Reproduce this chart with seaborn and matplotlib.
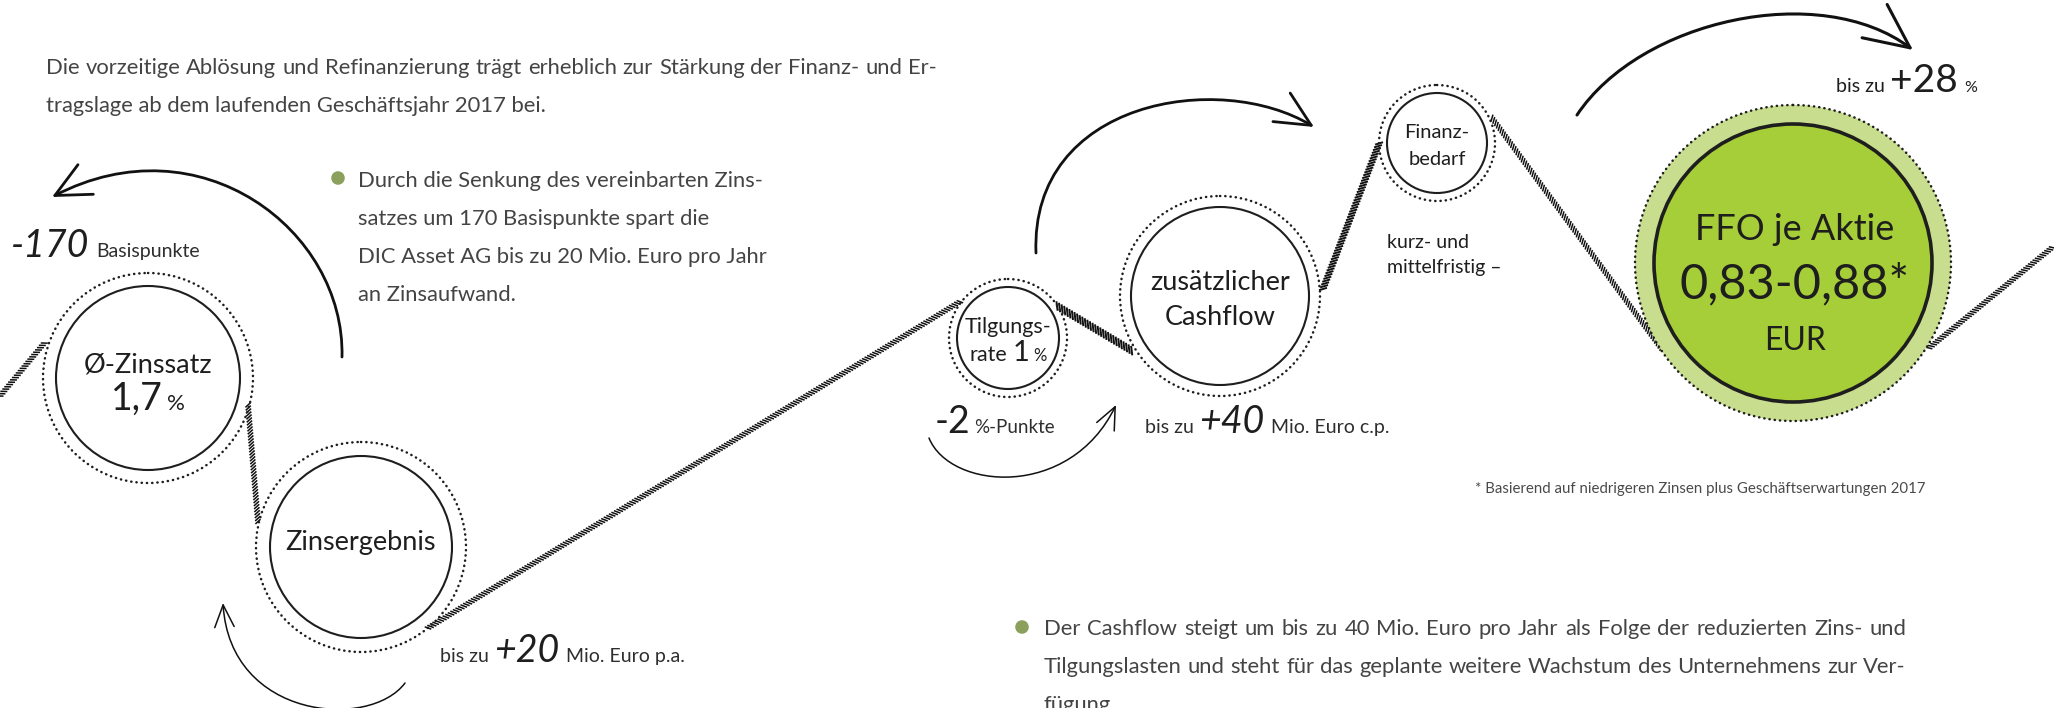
import numpy as np
import pandas as pd
import matplotlib
matplotlib.use("Agg")
import matplotlib.pyplot as plt
import seaborn as sns
from matplotlib.patches import Circle, FancyArrowPatch
from matplotlib.path import Path
from matplotlib.collections import LineCollection

# ---------------- content (values / labels) ----------------
intro_lines = [
    "Die vorzeitige Ablösung und Refinanzierung trägt erheblich zur Stärkung der Finanz- und Er-",
    "tragslage ab dem laufenden Geschäftsjahr 2017 bei.",
]
bullet1_lines = [
    "Durch die Senkung des vereinbarten Zins-",
    "satzes um 170 Basispunkte spart die",
    "DIC Asset AG bis zu 20 Mio. Euro pro Jahr",
    "an Zinsaufwand.",
]
bullet2_lines = [
    "Der Cashflow steigt um bis zu 40 Mio. Euro pro Jahr als Folge der reduzierten Zins- und",
    "Tilgungslasten und steht für das geplante weitere Wachstum des Unternehmens zur Ver-",
    "fügung.",
]
footnote = "* Basierend auf niedrigeren Zinsen plus Geschäftserwartungen 2017"

zins_delta = "-170"
zins_delta_unit = "Basispunkte"
zinssatz_label = "Ø-Zinssatz"
zinssatz_value = "1,7"
zinsergebnis_label = "Zinsergebnis"
zinsergebnis_delta = "+20"
zinsergebnis_unit = "Mio. Euro p.a."
tilgung_label = ["Tilgungs-", "rate"]
tilgung_value = "1"
tilgung_delta = "-2"
tilgung_delta_unit = "%-Punkte"
cashflow_label = ["zusätzlicher", "Cashflow"]
cashflow_delta = "+40"
cashflow_unit = "Mio. Euro c.p."
finanz_label = ["Finanz-", "bedarf"]
finanz_note = ["kurz- und", "mittelfristig –"]
ffo_label = "FFO je Aktie"
ffo_value = "0,83-0,88*"
ffo_unit = "EUR"
ffo_delta = "+28"
prefix = "bis zu"

# ---------------- layout (pixel space of the 2054x708 picture) ----------------
W, H = 2054, 708
nodes = {  # centre x, centre y, inner radius, dotted radius
    "zinssatz": (148, 378, 92, 105),
    "zinsergebnis": (361, 547, 91, 105),
    "tilgung": (1008, 338, 51, 59),
    "cashflow": (1220, 296, 89, 100),
    "finanz": (1437, 143, 50, 58),
}
ffo_node = (1793, 263, 139, 158)
rope_segments = [
    ((0, 396), (46, 341), 5.5),
    ((248, 405), (258, 522), 5.5),
    ((428, 628), (961, 301), 5.5),
    ((1057, 306), (1134, 352), 7.5),
    ((1323, 289), (1380, 141), 6.5),
    ((1492, 118), (1661, 348), 5.5),
    ((1929, 348), (2054, 246), 5.5),
]
arrows = [  # cubic bezier control points, head length, head width, line width
    ([(342, 357), (345, 230), (200, 120), (52, 197)], 1.25, 0.6, 2.0),
    ([(1036, 253), (1030, 100), (1220, 70), (1314, 127)], 1.25, 0.6, 2.0),
    ([(929, 438), (950, 490), (1070, 500), (1116, 405)], 0.8, 0.35, 1.1),
    ([(405, 683), (370, 730), (230, 720), (223, 603)], 0.8, 0.35, 1.1),
    ([(1577, 115), (1640, 20), (1820, -20), (1913, 50)], 1.6, 0.75, 2.2),
]

INK = "#1e1e1e"
BODY = "#444444"
GREEN_DOT = "#8aa05c"
FFO_IN = "#a6ce39"
FFO_RING = "#c8de8e"

sns.set_theme(style="white")
plt.rcParams["font.family"] = ["Lato", "DejaVu Sans"]

fig = plt.figure(figsize=(W / 100, H / 100), dpi=100)
ax = fig.add_axes([0, 0, 1, 1])
ax.set_xlim(0, W)
ax.set_ylim(H, 0)
ax.set_axis_off()
renderer = fig.canvas.get_renderer()


def run(x, y, pieces, ha="left"):
    """Place text pieces one after another on a common baseline."""
    cx = x
    made = []
    for s, kw, gap in pieces:
        cx += gap
        t = ax.text(cx, y, s, va="baseline", ha="left", **kw)
        cx += t.get_window_extent(renderer).width
        made.append(t)
    if ha == "center":
        shift = (cx - x) / 2
        for t in made:
            px, py = t.get_position()
            t.set_x(px - shift)
    return made


def justified(x0, x1, y, line, kw):
    """Spread the words of a line so it fills x0..x1 (justified setting)."""
    words = line.split(" ")
    made = [ax.text(x0, y, w, va="baseline", ha="left", **kw) for w in words]
    widths = [t.get_window_extent(renderer).width for t in made]
    gap = (x1 - x0 - sum(widths)) / max(len(words) - 1, 1)
    cx = x0
    for t, w in zip(made, widths):
        t.set_x(cx)
        cx += w + gap


def rope(p0, p1, width, step=3.0, tilt=38, lw=1.1, color="#111111"):
    p0 = np.asarray(p0, float)
    p1 = np.asarray(p1, float)
    d = p1 - p0
    L = np.hypot(*d)
    u = d / L
    n = np.array([-u[1], u[0]])
    b = np.deg2rad(tilt)
    v = np.cos(b) * n + np.sin(b) * u
    half = width / 2 / np.cos(b)
    s = np.arange(0, L, step)
    c = p0 + np.outer(s, u)
    segs = np.stack([c - v * half, c + v * half], axis=1)
    ax.add_collection(LineCollection(segs, colors=color, linewidths=lw, zorder=2))


def node(cx, cy, r_in, r_out, lw_in=1.5):
    ax.add_patch(Circle((cx, cy), r_in, fill=False, ec=INK, lw=lw_in, zorder=3))
    ring = Circle((cx, cy), r_out, fill=False, ec=INK, lw=1.8,
                  ls=(0, (0.1, 2.0)), zorder=3)
    ring.set_capstyle("round")
    ax.add_patch(ring)


# ---- rope ----
for p0, p1, wdt in rope_segments:
    rope(p0, p1, wdt, lw=1.4 if wdt > 6 else 1.1)

# ---- circles ----
for key, (cx, cy, ri, ro) in nodes.items():
    node(cx, cy, ri, ro)

fx, fy, fri, fro = ffo_node
ax.add_patch(Circle((fx, fy), fro, fc=FFO_RING, ec="none", zorder=2.5))
ax.add_patch(Circle((fx, fy), fri, fc=FFO_IN, ec=INK, lw=2.6, zorder=3))
ring = Circle((fx, fy), fro, fill=False, ec=INK, lw=1.8, ls=(0, (0.1, 2.0)), zorder=3)
ring.set_capstyle("round")
ax.add_patch(ring)

# ---- arrows ----
for pts, hl, hw, lw in arrows:
    path = Path(pts, [Path.MOVETO, Path.CURVE4, Path.CURVE4, Path.CURVE4])
    ax.add_patch(FancyArrowPatch(path=path,
                                 arrowstyle=f"->,head_length={hl},head_width={hw}",
                                 mutation_scale=20, lw=lw, color="#111111",
                                 capstyle="round", joinstyle="round", zorder=4))

# ---- bullet dots (seaborn) ----
dots = pd.DataFrame({"x": [338, 1022], "y": [178, 627]})
sns.scatterplot(data=dots, x="x", y="y", ax=ax, s=95, color=GREEN_DOT,
                edgecolor="none", legend=False, zorder=5)
ax.set_xlim(0, W)
ax.set_ylim(H, 0)
ax.set_axis_off()

# ---- paragraphs ----
body_kw = dict(fontsize=15.8, fontweight="normal", color=BODY)
justified(46, 937, 74, intro_lines[0], body_kw)
ax.text(46, 112, intro_lines[1], va="baseline", ha="left", **body_kw)
for i, line in enumerate(bullet1_lines):
    ax.text(358, 187 + 38 * i, line, va="baseline", ha="left", **body_kw)
justified(1044, 1906, 635, bullet2_lines[0], body_kw)
justified(1044, 1906, 673, bullet2_lines[1], body_kw)
ax.text(1044, 711, bullet2_lines[2], va="baseline", ha="left", **body_kw)
ax.text(1475, 493, footnote, va="baseline", ha="left", fontsize=10.8,
        fontweight="normal", color="#4a4a4a")

# ---- annotations ----
big_it = dict(fontsize=27, style="italic", fontweight="normal", color=INK)
small = dict(fontsize=14, fontweight="normal", color="#2e2e2e")
label = dict(fontsize=19.5, color=INK)

run(11, 257, [(zins_delta, big_it, 0), (zins_delta_unit, small, 7)])

ax.text(148, 372, zinssatz_label, ha="center", va="baseline", **label)
run(148, 410, [(zinssatz_value, dict(fontsize=27, color=INK), 0),
               ("%", dict(fontsize=16, color=INK), 5)], ha="center")

ax.text(361, 550, zinsergebnis_label, ha="center", va="baseline", **label)
run(440, 662, [(prefix, small, 0), (zinsergebnis_delta, dict(big_it, fontsize=27), 5),
               (zinsergebnis_unit, small, 7)])

ax.text(1008, 333, tilgung_label[0], ha="center", va="baseline", fontsize=15.5, color=INK)
run(1008, 361, [(tilgung_label[1], dict(fontsize=15.5, color=INK), 0),
                (tilgung_value, dict(fontsize=21, color=INK), 5),
                ("%", dict(fontsize=12, color=INK), 4)], ha="center")
run(935, 433, [(tilgung_delta, dict(fontsize=27, fontweight="normal", color=INK), 0),
               (tilgung_delta_unit, dict(small, fontsize=13.5), 3)])

ax.text(1220, 290, cashflow_label[0], ha="center", va="baseline", **label)
ax.text(1220, 325, cashflow_label[1], ha="center", va="baseline", **label)
run(1145, 433, [(prefix, small, 0), (cashflow_delta, dict(big_it, fontsize=27), 5),
                (cashflow_unit, small, 7)])

ax.text(1437, 138, finanz_label[0], ha="center", va="baseline", fontsize=14.5, color=INK)
ax.text(1437, 165, finanz_label[1], ha="center", va="baseline", fontsize=14.5, color=INK)
ax.text(1387, 248, finanz_note[0], ha="left", va="baseline", fontsize=14, color=INK)
ax.text(1387, 273, finanz_note[1], ha="left", va="baseline", fontsize=14, color=INK)

ax.text(fx + 2, 240, ffo_label, ha="center", va="baseline", fontsize=26, color=INK)
ax.text(fx + 2, 298, ffo_value, ha="center", va="baseline", fontsize=35, color=INK)
ax.text(fx + 2, 350, ffo_unit, ha="center", va="baseline", fontsize=23, color=INK)
run(1836, 92, [(prefix, dict(fontsize=14, color=INK), 0),
               (ffo_delta, dict(fontsize=28, fontweight="normal", color=INK), 5),
               ("%", dict(fontsize=11.5, color=INK), 7)])

fig.savefig("out.png", dpi=100, facecolor="white")
